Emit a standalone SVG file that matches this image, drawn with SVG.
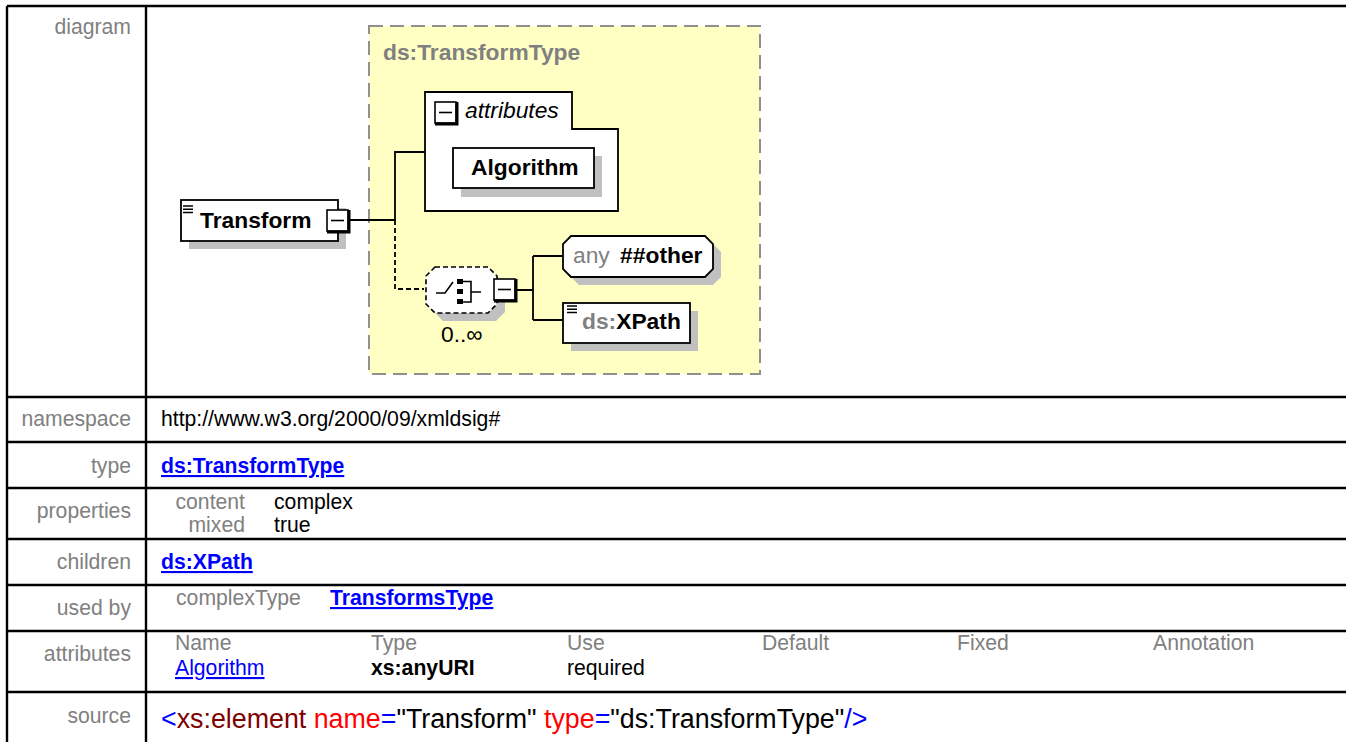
<svg xmlns="http://www.w3.org/2000/svg" width="1346" height="742" viewBox="0 0 1346 742">
<style>
text{font-family:"Liberation Sans",Arial,sans-serif}
.lbl{font-size:21.2px;fill:#808080;text-anchor:end}
.val{font-size:21.2px;fill:#000}
.gray{font-size:21.2px;fill:#808080}
.link{font-size:21.2px;fill:#0000FF;text-decoration:underline}
.b{font-weight:bold}
.grid{stroke:#000;stroke-width:2.4;fill:none}
.dg{font-size:22.8px}
.box{fill:#fff;stroke:#000;stroke-width:1.8}
.shadow{fill:#C0C0C0}
.con{stroke:#000;stroke-width:1.8;fill:none}
.dash{stroke:#000;stroke-width:1.8;fill:none;stroke-dasharray:5 3}
.src{font-size:26.8px}
</style>
<defs>
<g id="btn">
<rect x="0" y="0" width="21" height="21" fill="#fff" stroke="#000" stroke-width="1.6"/>
<path d="M22 0 V22 H0" stroke="#000" stroke-width="3" fill="none"/>
<path d="M4 10.5 H17" stroke="#000" stroke-width="1.6"/>
</g>
<g id="icon">
<path d="M0 0 H10 M0 3.3 H10 M0 6.6 H10" stroke="#000" stroke-width="1.5"/>
</g>
</defs>
<rect x="0" y="0" width="1346" height="742" fill="#fff"/>

<g id="table">
<path class="grid" d="M7 6 H1346 M7 6 V742 M146 6 V742 M7 397 H1346 M7 442 H1346 M7 488 H1346 M7 539 H1346 M7 585 H1346 M7 631 H1346 M7 692 H1346"/>
<text class="lbl" x="131" y="34">diagram</text>
<text class="lbl" x="131" y="426">namespace</text>
<text class="lbl" x="131" y="473">type</text>
<text class="lbl" x="131" y="518">properties</text>
<text class="lbl" x="131" y="569">children</text>
<text class="lbl" x="131" y="615">used by</text>
<text class="lbl" x="131" y="661">attributes</text>
<text class="lbl" x="131" y="723">source</text>

<text class="val" x="161" y="426">http://www.w3.org/2000/09/xmldsig#</text>
<text class="link b" x="161" y="473">ds:TransformType</text>
<text class="gray" x="245" y="509" text-anchor="end">content</text>
<text class="gray" x="245" y="532" text-anchor="end">mixed</text>
<text class="val" x="274" y="509">complex</text>
<text class="val" x="274" y="532">true</text>
<text class="link b" x="161" y="569">ds:XPath</text>
<text class="gray" x="176" y="605">complexType</text>
<text class="link b" x="330" y="605">TransformsType</text>
<text class="gray" x="175" y="650">Name</text>
<text class="gray" x="371" y="650">Type</text>
<text class="gray" x="567" y="650">Use</text>
<text class="gray" x="762" y="650">Default</text>
<text class="gray" x="957" y="650">Fixed</text>
<text class="gray" x="1153" y="650">Annotation</text>
<text class="link" x="175" y="675">Algorithm</text>
<text class="val b" x="371" y="675">xs:anyURI</text>
<text class="val" x="567" y="675">required</text>
<text class="src" x="161" y="728"><tspan fill="#0000FF">&lt;</tspan><tspan fill="#800000">xs:element</tspan> <tspan fill="#FF0000">name</tspan><tspan fill="#0000FF">=</tspan><tspan fill="#000">"Transform"</tspan> <tspan fill="#FF0000">type</tspan><tspan fill="#0000FF">=</tspan><tspan fill="#000">"ds:TransformType"</tspan><tspan fill="#0000FF">/&gt;</tspan></text>
</g>

<g id="typebox">
<rect x="369" y="26" width="391" height="348" fill="#FFFFC4" stroke="#909090" stroke-width="2" stroke-dasharray="14 7"/>
<text class="dg b" x="383" y="60" fill="#808080">ds:TransformType</text>
</g>

<g id="connectors">
<path class="con" d="M349 220 H395 V152 H425"/>
<path class="dash" d="M395 220 V289 H424"/>
<path class="con" d="M516 290 H533 M533 256 V320 M533 256 H563 M533 320 H563"/>
</g>

<g id="node-transform">
<rect class="shadow" x="189" y="208" width="157" height="41"/>
<rect class="box" x="181" y="200" width="157" height="41"/>
<use href="#icon" x="183" y="206"/>
<text class="dg b" x="200" y="228">Transform</text>
<use href="#btn" x="327" y="210"/>
</g>

<g id="node-attributes">
<polygon class="box" points="425,92 572,92 572,129 618,129 618,211 425,211"/>
<use href="#btn" x="435" y="102"/>
<text class="dg" x="465" y="118" font-style="italic">attributes</text>
</g>

<g id="node-algorithm">
<rect class="shadow" x="461" y="156" width="141" height="41"/>
<rect class="box" x="453" y="148" width="141" height="40"/>
<text class="dg b" x="471" y="175">Algorithm</text>
</g>

<g id="node-choice">
<polygon class="shadow" points="443,275 496,275 505,284 505,312 496,321 443,321 434,312 434,284"/>
<polygon fill="#fff" stroke="#000" stroke-width="1.6" stroke-dasharray="5 3" points="435,267 488,267 497,276 497,304 488,313 435,313 426,304 426,276"/>
<path d="M436 293 H445 L453 282" stroke="#000" stroke-width="1.6" fill="none"/>
<rect x="457" y="279" width="6" height="5" fill="#000"/>
<rect x="457" y="289" width="6" height="5" fill="#000"/>
<rect x="457" y="299" width="6" height="5" fill="#000"/>
<path d="M462 281.5 H471 V302 H462 M471 292 H481" stroke="#000" stroke-width="1.6" fill="none"/>
<use href="#btn" x="494" y="279"/>
<text class="dg" x="441" y="342" fill="#000">0..∞</text>
</g>

<g id="node-any">
<polygon class="shadow" points="579,244 713,244 721,252 721,277 713,285 579,285 571,277 571,252"/>
<polygon class="box" points="571,236 705,236 713,244 713,269 705,277 571,277 563,269 563,244"/>
<text class="dg" x="573" y="263"><tspan fill="#808080">any</tspan> <tspan class="b" fill="#000" dx="4">##other</tspan></text>
</g>

<g id="node-xpath">
<rect class="shadow" x="571" y="311" width="127" height="40"/>
<rect class="box" x="563" y="303" width="127" height="40"/>
<use href="#icon" x="567" y="306"/>
<text class="dg b" x="582" y="329"><tspan fill="#808080">ds:</tspan><tspan fill="#000">XPath</tspan></text>
</g>
</svg>
